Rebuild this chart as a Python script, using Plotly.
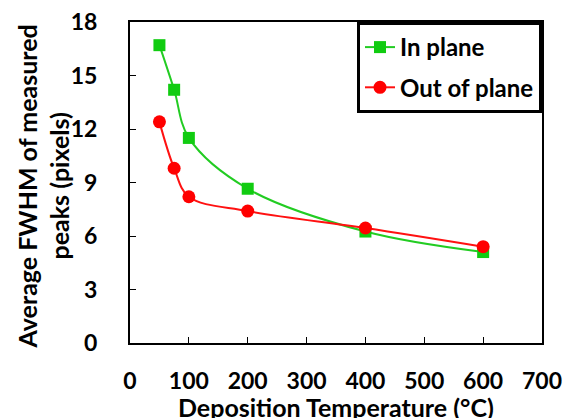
import plotly.graph_objects as go

temps = [50, 75, 100, 200, 400, 600]
in_plane = [16.7, 14.2, 11.5, 8.65, 6.25, 5.1]
out_of_plane = [12.4, 9.8, 8.2, 7.4, 6.45, 5.4]

x_ticks = [0, 100, 200, 300, 400, 500, 600, 700]
y_ticks = [0, 3, 6, 9, 12, 15, 18]

x_title = "Deposition Temperature (°C)"
y_title = "Average FWHM of measured<br>peaks (pixels)"

FONT = "Lato"
TICK = 23
TXT = 25

fig = go.Figure()
fig.add_trace(go.Scatter(
    x=temps, y=in_plane, name="In plane", mode="lines+markers", legendgroup="a",
    line=dict(color="#22cc22", width=2, shape="spline", smoothing=1.0),
    marker=dict(symbol="square", size=12, color="#11cc11"),
))
fig.add_trace(go.Scatter(
    x=temps, y=out_of_plane, name="Out of plane", mode="lines+markers", legendgroup="b",
    line=dict(color="#ff1111", width=2, shape="spline", smoothing=1.0),
    marker=dict(symbol="circle", size=13, color="#ff0000"),
))

# page body has an 8px margin, so the figure is shrunk and shifted to compensate
fig.update_layout(
    width=563, height=410,
    margin=dict(l=122, r=29, t=14, b=75),
    paper_bgcolor="white", plot_bgcolor="white",
    font=dict(family=FONT, size=TICK, color="black", weight="bold"),
    showlegend=True,
    legend=dict(
        x=1, y=1, xanchor="right", yanchor="top",
        bordercolor="black", borderwidth=3, bgcolor="white",
        font=dict(family=FONT, size=24, color="black", weight="bold"),
        tracegroupgap=6, itemwidth=30,
    ),
    xaxis=dict(
        range=[0, 700], tickvals=x_ticks, ticktext=[str(v) for v in x_ticks],
        showline=True, linecolor="black", linewidth=2, mirror=True,
        ticks="inside", ticklen=6, tickcolor="black", tickwidth=1,
        showgrid=False, zeroline=False, ticklabelstandoff=16,
        tickfont=dict(size=TICK), automargin=False, ticklabeloverflow="allow",
    ),
    yaxis=dict(
        range=[0, 18], tickvals=y_ticks, ticktext=[str(v) for v in y_ticks],
        showline=True, linecolor="black", linewidth=2, mirror=True,
        ticks="inside", ticklen=6, tickcolor="black", tickwidth=1,
        showgrid=False, zeroline=False, ticklabelstandoff=26,
        tickfont=dict(size=TICK), automargin=False, ticklabeloverflow="allow",
    ),
    annotations=[
        dict(text=x_title, xref="paper", yref="paper", x=0.5, y=0,
             xanchor="center", yanchor="top", yshift=-47, showarrow=False,
             font=dict(family=FONT, size=TXT, weight="bold", color="black")),
        dict(text=y_title, xref="paper", yref="paper", x=0, y=0.5,
             xanchor="center", yanchor="middle", xshift=-87, yshift=-4,
             textangle=-90, showarrow=False,
             font=dict(family=FONT, size=TXT, weight="bold", color="black")),
    ],
)

fig.write_html("out.html")
